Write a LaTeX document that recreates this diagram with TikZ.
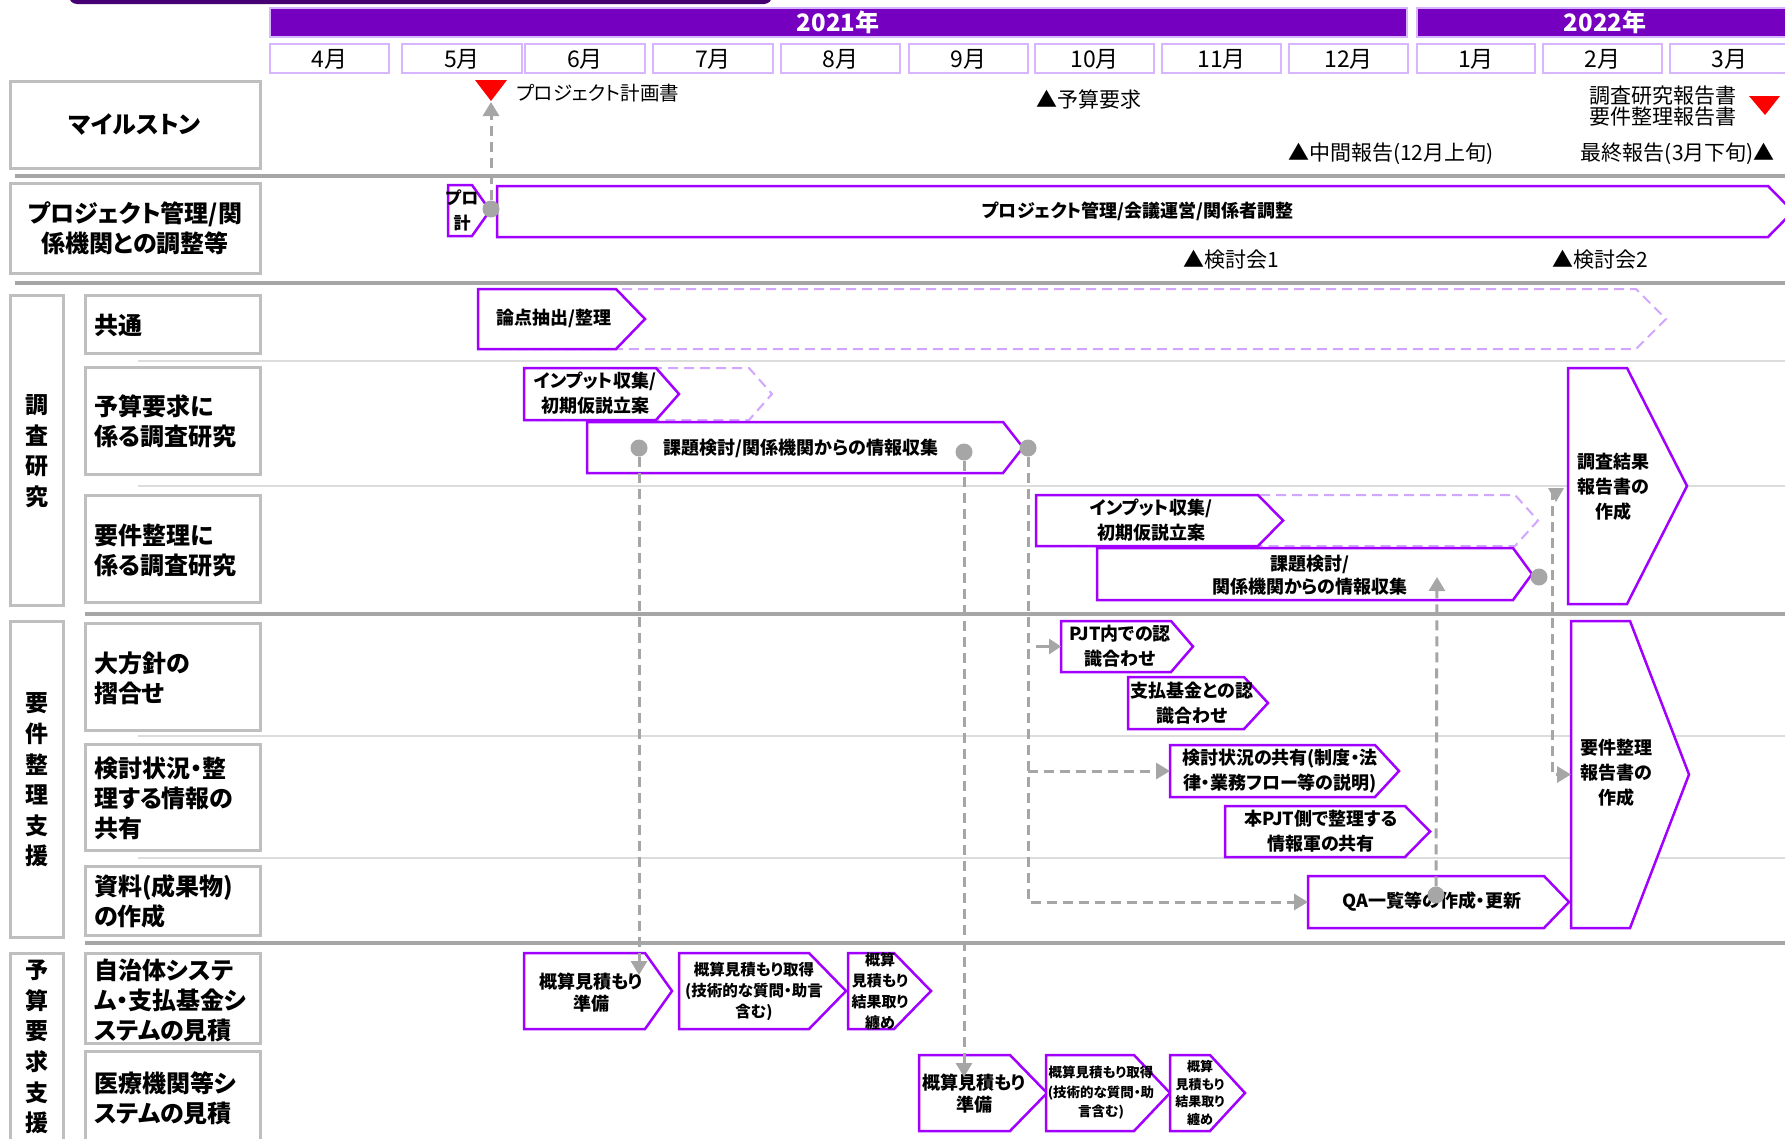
\documentclass[tikz,border=0pt]{standalone}
\usepackage{fontspec}
\setmainfont{Noto Sans CJK JP}[RawFeature={+palt}]
\usetikzlibrary{arrows.meta}
\definecolor{accP}{HTML}{A100FF}
\definecolor{accD}{HTML}{7500C0}
\definecolor{accDD}{HTML}{460073}
\definecolor{lav}{HTML}{D7B5FF}
\definecolor{dlav}{HTML}{D2A6FF}
\definecolor{gr}{HTML}{A6A6A6}
\definecolor{lgr}{HTML}{DCDCDC}
\definecolor{bgr}{HTML}{BFBFBF}
\tikzset{
  chev/.style={draw=accP, line width=2.5pt, fill=white, line join=miter},
  dchev/.style={draw=dlav, line width=2pt, dash pattern=on 10pt off 6pt},
  lbox/.style={draw=bgr, line width=3pt, fill=white},
  mbox/.style={draw=lav, line width=2pt, fill=white},
  ybar/.style={draw=lav, line width=1.5pt, fill=accD},
  ctext/.style={font=\bfseries\fontsize{18}{25}\selectfont, align=center, inner sep=0pt},
  ltext/.style={font=\bfseries\fontsize{24}{30}\selectfont, align=left, anchor=west, inner sep=0pt},
  vtext/.style={font=\bfseries\fontsize{23}{30.6}\selectfont, align=center, inner sep=0pt},
  mtext/.style={font=\fontsize{21}{19}\selectfont, inner sep=0pt},
  montext/.style={font=\fontsize{23}{24}\selectfont, inner sep=0pt},
  yeartext/.style={font=\bfseries\fontsize{24}{24}\selectfont, text=white, inner sep=0pt},
  sepA/.style={draw=gr, line width=4pt},
  sepB/.style={draw=lgr, line width=1.5pt},
  conn/.style={draw=gr, line width=3pt, dash pattern=on 10pt off 6pt},
  sconn/.style={draw=gr, line width=3pt},
  arr/.style={-{Triangle[width=16pt,length=14pt]}},
  dot/.style={circle, fill=gr, minimum size=17pt, inner sep=0pt},
}
% \chev[style]{name}{x1}{y1}{xs}{xt}{y2}
\newcommand{\chev}[7][chev]{%
  \path[#1] (#3,#4) -- (#5,#4) -- (#6,{(#4+#7)/2}) -- (#5,#7) -- (#3,#7) -- cycle;
  \coordinate (#2-w) at (#3,{(#4+#7)/2});
  \coordinate (#2-tip) at (#6,{(#4+#7)/2});
}
\begin{document}
\begin{tikzpicture}[x=1pt,y=-1pt]
\useasboundingbox (0,0) rectangle (1785,1138);
\clip (0,0) rectangle (1785,1138);
\fill[white] (0,0) rectangle (1785,1138);

% top sliver
\fill[accDD, rounded corners=8pt] (69,-30) rectangle (772,4);

% years
\draw[ybar] (270,8) rectangle (1407,37);
\node[yeartext] (y2021) at (838,22) {2021年};
\draw[ybar] (1417,8) rectangle (1795,37);
\node[yeartext] (y2022) at (1605,22) {2022年};

% months
\foreach \lab/\a/\b in {4月/270/389, 5月/402/522, 6月/525/645, 7月/653/773, 8月/781/900, 9月/909/1028, 10月/1035/1154, 11月/1162/1281, 12月/1289/1408, 1月/1417/1535, 2月/1543/1662, 3月/1670/1789}{
  \draw[mbox] (\a,44) rectangle (\b,73);
  \node[montext] (m\a) at ({(\a+\b)/2},59) {\lab};
}

% separators
\draw[sepA] (15,176) -- (1785,176);
\draw[sepA] (15,283) -- (1785,283);
\draw[sepA] (85,614) -- (1785,614);
\draw[sepA] (85,943) -- (1785,943);
\draw[sepB] (138,361) -- (1785,361);
\draw[sepB] (138,486) -- (1785,486);
\draw[sepB] (138,736) -- (1785,736);
\draw[sepB] (138,858) -- (1785,858);

% label boxes
\draw[lbox] (10,81) rectangle (260,168);
\node[font=\bfseries\fontsize{24}{30}\selectfont, inner sep=0pt] (lms) at (135,125) {マイルストン};
\draw[lbox] (10,183) rectangle (260,273);
\node[font=\bfseries\fontsize{24}{30}\selectfont, align=center, inner sep=0pt] (lpm) at (135,228) {プロジェクト管理/関\\係機関との調整等};
\draw[lbox] (10,295) rectangle (63,605);
\node[vtext] (vs1) at (37,451) {調\\査\\研\\究};
\draw[lbox] (85,295) rectangle (260,353);
\node[ltext] (l1) at (94,325) {共通};
\draw[lbox] (85,367) rectangle (260,474);
\node[ltext] (l2) at (94,421) {予算要求に\\係る調査研究};
\draw[lbox] (85,495) rectangle (260,602);
\node[ltext] (l3) at (94,550) {要件整理に\\係る調査研究};
\draw[lbox] (10,621) rectangle (63,937);
\node[vtext] (vs2) at (37,780) {要\\件\\整\\理\\支\\援};
\draw[lbox] (85,623) rectangle (260,730);
\node[ltext] (l4) at (94,678) {大方針の\\摺合せ};
\draw[lbox] (85,744) rectangle (260,850);
\node[ltext] (l5) at (94,798) {検討状況・整\\理する情報の\\共有};
\draw[lbox] (85,866) rectangle (260,935);
\node[ltext] (l6) at (94,901) {資料(成果物)\\の作成};
\draw[lbox] (10,953) rectangle (63,1170);
\node[vtext] (vs3) at (37,1047) {予\\算\\要\\求\\支\\援};
\draw[lbox] (85,953) rectangle (260,1043);
\node[ltext] (l7) at (94,1000) {自治体システ\\ム・支払基金シ\\ステムの見積};
\draw[lbox] (85,1051) rectangle (260,1170);
\node[ltext] (l8) at (94,1098) {医療機関等シ\\ステムの見積};

% milestones
\fill[red] (475,80) -- (507,80) -- (491,101) -- cycle;
\node[mtext, font=\fontsize{19.5}{19}\selectfont, anchor=west] (ms1) at (516,93) {プロジェクト計画書};
\node[mtext, anchor=west] (ms2) at (1036,99) {▲予算要求};
\node[mtext, anchor=east, align=left] (ms3) at (1737,106) {調査研究報告書\\要件整理報告書};
\fill[red] (1749,96) -- (1780,96) -- (1765,115) -- cycle;
\node[mtext, anchor=west] (ms4) at (1288,154) {▲中間報告(12月上旬)};
\node[mtext, anchor=east] (ms5) at (1775,154) {最終報告(3月下旬)▲};
\node[mtext, anchor=west] (ms6) at (1183,260) {▲検討会1};
\node[mtext, anchor=west] (ms7) at (1552,260) {▲検討会2};

% chevrons
\chev{pk}{448}{185}{472}{490}{236}
\node[ctext, font=\bfseries\fontsize{17}{25}\selectfont] (pkt) at (462,210) {プロ\\計};
\chev{pm}{497}{186}{1768}{1793}{237}
\node[ctext] (pmt) at (1138,211) {プロジェクト管理/会議運営/関係者調整};

\chev[dchev]{rond}{478}{289}{1636}{1666}{349}
\chev{ron}{478}{289}{616}{645}{349}
\node[ctext] (ront) at (554,318) {論点抽出/整理};

\chev[dchev]{inpAd}{524}{368}{749}{772}{420}
\chev{inpA}{524}{368}{656}{679}{420}
\node[ctext] (inpAt) at (595,393) {インプット収集/\\初期仮説立案};

\chev{kadA}{587}{422}{1003}{1023}{473}
\node[ctext] (kadAt) at (801,448) {課題検討/関係機関からの情報収集};

\chev[dchev]{inpBd}{1036}{495}{1515}{1538}{546}
\chev{inpB}{1036}{495}{1258}{1283}{546}
\node[ctext] (inpBt) at (1151,520) {インプット収集/\\初期仮説立案};

\chev{kadB}{1097}{548}{1513}{1532}{600}
\node[ctext, font=\bfseries\fontsize{18}{23}\selectfont] (kadBt) at (1310,575) {課題検討/\\関係機関からの情報収集};

\chev{repA}{1568}{368}{1627}{1687}{604}
\node[ctext] (repAt) at (1613,487) {調査結果\\報告書の\\作成};

\chev{pjt}{1061}{621}{1171}{1193}{672}
\node[ctext] (pjtt) at (1120,646) {PJT内での認\\識合わせ};

\chev{sh}{1128}{677}{1244}{1268}{729}
\node[ctext] (sht) at (1192,703) {支払基金との認\\識合わせ};

\chev{ken}{1170}{745}{1375}{1399}{797}
\node[ctext] (kent) at (1280,771) {検討状況の共有(制度・法\\律・業務フロー等の説明)};

\chev{hon}{1225}{806}{1405}{1430}{857}
\node[ctext] (hont) at (1321,831) {本PJT側で整理する\\情報軍の共有};

\chev{qa}{1308}{876}{1544}{1569}{928}
\node[ctext] (qat) at (1432,902) {QA一覧等の作成・更新};

\chev{repB}{1571}{621}{1630}{1689}{928}
\node[ctext] (repBt) at (1616,773) {要件整理\\報告書の\\作成};

\chev{ga}{524}{953}{645}{672}{1029}
\node[ctext, font=\bfseries\fontsize{18}{22}\selectfont] (gat) at (591,993) {概算見積もり\\準備};
\chev{gb}{679}{953}{809}{846}{1029}
\node[ctext, font=\bfseries\fontsize{15.5}{21}\selectfont] (gbt) at (754,991) {概算見積もり取得\\(技術的な質問・助言\\含む)};
\chev{gc}{848}{953}{894}{931}{1029}
\node[ctext, font=\bfseries\fontsize{15}{21}\selectfont] (gct) at (880,991) {概算\\見積もり\\結果取り\\纏め};

\chev{ha}{919}{1055}{1010}{1047}{1131}
\node[ctext, font=\bfseries\fontsize{18}{22}\selectfont] (hat) at (974,1094) {概算見積もり\\準備};
\chev{hb}{1046}{1055}{1134}{1170}{1131}
\node[ctext, font=\bfseries\fontsize{13.5}{19.5}\selectfont] (hbt) at (1101,1093) {概算見積もり取得\\(技術的な質問・助\\言含む)};
\chev{hc}{1170}{1055}{1210}{1245}{1131}
\node[ctext, font=\bfseries\fontsize{13}{17.5}\selectfont] (hct) at (1200,1093) {概算\\見積もり\\結果取り\\纏め};

% connectors
\node[dot] (d1) at (491,209) {};
\node[dot] (d2) at (639,448) {};
\node[dot] (d3) at (964,452) {};
\node[dot] (d4) at (1028,448) {};
\node[dot] (d5) at (1436,895) {};
\node[dot] (d6) at (1539,577) {};

\coordinate (a1) at (491,102);
\draw[conn, arr] (d1) -- (a1);
\coordinate (a2) at (639,975);
\draw[conn, arr] (d2) -- (a2);
\coordinate (a3) at (964,1077);
\draw[conn, arr] (d3) -- (a3);
\draw[conn, arr] (d4) |- (qa-w);
\coordinate (b1) at (1028,771);
\draw[conn, arr] (b1) -- (ken-w);
\coordinate (b2) at (1036,646.5);
\draw[sconn, -{Triangle[width=15pt,length=12pt]}] (b2) -- (pjt-w);
\coordinate (a5) at (1437,577);
\draw[conn, arr] (d5) -- (a5);
\coordinate (c1) at (1552,490);
\draw[conn, arr] (c1) |- (repB-w);
\fill[gr] (1548,488) -- (1564,488) -- (1556,502) -- cycle;
\end{tikzpicture}
\end{document}
